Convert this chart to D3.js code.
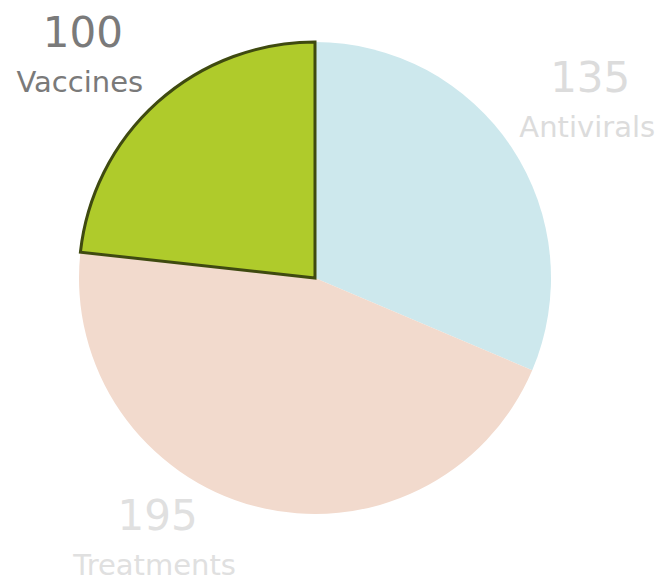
<!DOCTYPE html>
<html>
<head>
<meta charset="utf-8">
<title>Pie</title>
<script src="https://d3js.org/d3.v7.min.js"></script>
<style>
  body { margin: 0; background: #fff; }
  text { font-family: "DejaVu Sans", sans-serif; }
</style>
</head>
<body>
<div id="viz"></div>
<script>
// data
var categories = ["Antivirals", "Treatments", "Vaccines"];
var values = [135, 195, 100];
var colors = ["#cde8ed", "#f2dacd", "#afcb2b"];
var labelColors = ["#dcdcdc", "#e0e0e0", "#7a7a7a"];

var width = 669, height = 584;
var cx = 315, cy = 278, radius = 236;

// label nudges from the arc centroid (layout only)
var labelShift = [[0, -4], [-74, -67], [-12, 15]];

var svg = d3.select("#viz").append("svg")
  .attr("width", width)
  .attr("height", height);

var g = svg.append("g").attr("transform", "translate(" + cx + "," + cy + ")");

var rows = categories.map(function(c, i) { return { name: c, value: values[i], i: i }; });

var pie = d3.pie().sort(null).value(function(d) { return d.value; });
var arc = d3.arc().innerRadius(0).outerRadius(radius);
var labelArc = d3.arc().innerRadius(330).outerRadius(330);

var arcs = pie(rows);

g.selectAll("path.slice")
  .data(arcs)
  .enter().append("path")
    .attr("class", "slice")
    .attr("d", arc)
    .attr("fill", function(d) { return colors[d.data.i]; })
    .attr("stroke", function(d) { return d.data.name === "Vaccines" ? "#3f4a10" : "none"; })
    .attr("stroke-width", 3)
    .attr("stroke-linejoin", "miter");

// highlighted slice on top
g.selectAll("path.slice").filter(function(d) { return d.data.name === "Vaccines"; }).raise();

var lab = g.selectAll("g.lab")
  .data(arcs)
  .enter().append("g")
    .attr("class", "lab")
    .attr("transform", function(d) {
      var c = labelArc.centroid(d);
      var s = labelShift[d.data.i];
      return "translate(" + (c[0] + s[0]) + "," + (c[1] + s[1]) + ")";
    });

lab.append("text")
  .attr("text-anchor", "middle")
  .attr("font-size", 42)
  .attr("fill", function(d) { return labelColors[d.data.i]; })
  .text(function(d) { return d.data.value; });

lab.append("text")
  .attr("text-anchor", "middle")
  .attr("x", -3)
  .attr("y", 45)
  .attr("font-size", 29)
  .attr("fill", function(d) { return labelColors[d.data.i]; })
  .text(function(d) { return d.data.name; });
</script>
</body>
</html>
